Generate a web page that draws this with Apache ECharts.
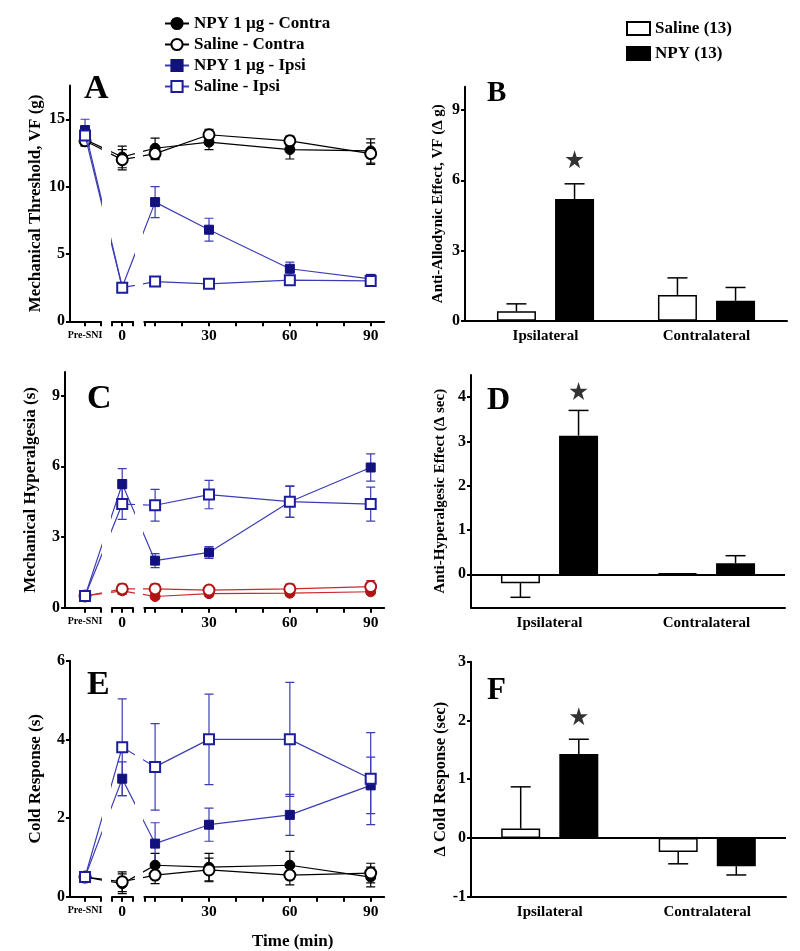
<!DOCTYPE html>
<html><head><meta charset="utf-8">
<script src="https://cdn.jsdelivr.net/npm/echarts@6/dist/echarts.min.js"></script>
<style>html,body{margin:0;padding:0;background:#fff}#chart{width:800px;height:951px}</style>
</head><body><div id="chart"></div>
<script>
// ---------------- DATA ----------------
const timeLabels = ['Pre-SNI', '0', '10', '30', '60', '90'];
const timeTickMinutes = [10, 20, 30, 40, 50, 60, 70, 80, 90];
const timeLabelMinutes = [30, 60, 90];
const groupNames = ['NPY 1 µg - Contra', 'Saline - Contra', 'NPY 1 µg - Ipsi', 'Saline - Ipsi'];

// Panel A: Mechanical threshold (g)
const aNpyContra    = [13.5, 12.2, 12.85, 13.3, 12.75, 12.65];
const aNpyContraSem = [0.4, 0.8, 0.75, 0.55, 0.7, 0.9];
const aSalContra    = [13.4, 12.0, 12.45, 13.85, 13.4, 12.45];
const aSalContraSem = [0.4, 0.75, 0.45, 0.4, 0.35, 0.8];
const aNpyIpsi      = [14.2, 2.55, 8.85, 6.8, 3.9, 3.15];
const aNpyIpsiSem   = [0.8, 0.2, 1.15, 0.85, 0.5, 0.3];
const aSalIpsi      = [13.8, 2.5, 2.95, 2.78, 3.05, 3.0];
const aSalIpsiSem   = [0.4, 0.2, 0.3, 0.2, 0.3, 0.3];
const aYTicks = [0, 5, 10, 15];

// Panel C: Mechanical hyperalgesia (s)
const cNpyContra    = [0.5, 0.72, 0.48, 0.6, 0.62, 0.68];
const cNpyContraSem = [0.1, 0.15, 0.1, 0.1, 0.1, 0.1];
const cSalContra    = [0.5, 0.8, 0.8, 0.75, 0.8, 0.9];
const cSalContraSem = [0.1, 0.2, 0.2, 0.15, 0.2, 0.25];
const cNpyIpsi      = [0.5, 5.25, 2.0, 2.35, 4.5, 5.95];
const cNpyIpsiSem   = [0.1, 0.65, 0.3, 0.25, 0.65, 0.58];
const cSalIpsi      = [0.5, 4.4, 4.35, 4.8, 4.5, 4.4];
const cSalIpsiSem   = [0.1, 0.65, 0.67, 0.6, 0.67, 0.72];
const cYTicks = [0, 3, 6, 9];

// Panel E: Cold response (s)
const eNpyContra    = [0.5, 0.33, 0.8, 0.75, 0.8, 0.5];
const eNpyContraSem = [0.1, 0.25, 0.3, 0.35, 0.35, 0.25];
const eSalContra    = [0.5, 0.38, 0.55, 0.68, 0.55, 0.6];
const eSalContraSem = [0.1, 0.25, 0.22, 0.3, 0.25, 0.25];
const eNpyIpsi      = [0.5, 3.0, 1.35, 1.83, 2.08, 2.83];
const eNpyIpsiSem   = [0.05, 0.43, 0.53, 0.42, 0.52, 0.72];
const eSalIpsi      = [0.5, 3.8, 3.3, 4.0, 4.0, 3.0];
const eSalIpsiSem   = [0.05, 1.23, 1.1, 1.15, 1.45, 1.17];
const eYTicks = [0, 2, 4, 6];

// Bar panels
const barCategories = ['Ipsilateral', 'Contralateral'];
const barGroups = ['Saline (13)', 'NPY (13)'];
const bSaline = [0.4, 1.1];   const bSalineSem = [0.32, 0.73];
const bNpy    = [5.2, 0.85];  const bNpySem    = [0.65, 0.57];
const bStar = 6.9;  const bYTicks = [0, 3, 6, 9];
const dSaline = [-0.2, 0.02]; const dSalineSem = [0.32, 0];
const dNpy    = [3.13, 0.25]; const dNpySem    = [0.57, 0.17];
const dStar = 4.14; const dYTicks = [0, 1, 2, 3, 4];
const fSaline = [0.16, -0.24]; const fSalineSem = [0.71, 0.2];
const fNpy    = [1.43, -0.48]; const fNpySem    = [0.25, 0.15];
const fStar = 2.07; const fYTicks = [-1, 0, 1, 2, 3];

// ---------------- LAYOUT / STYLE ----------------
const SERIF = 'Liberation Serif';
const PX_PER_MIN = 2.695, PX_AT_30 = 209;
const PRE_POS = -16, ZERO_POS = -2.2;
function xPos(label) { return label === 'Pre-SNI' ? PRE_POS : (label === '0' ? ZERO_POS : Number(label)); }
function px(d) { return PX_AT_30 + (d - 30) * PX_PER_MIN; }

const BLUE_LINE = '#3c3cb4', NAVY = '#12127e', BLUE_EDGE = '#1c1c9c';
const RED_LINE = '#cc2a2a', RED_FILL = '#b01414';

const linePanels = [
  { letter: 'A', yName: 'Mechanical Threshold, VF (g)', yMax: 17.5, yTicks: aYTicks, top: 85.6, height: 235.7, seg1Min: -21.6,
    contra: '#000', contraLine: '#000', letterXY: [84, 103], letterSize: 34, nameSize: 17,
    sets: [[aNpyContra, aNpyContraSem], [aSalContra, aSalContraSem], [aNpyIpsi, aNpyIpsiSem], [aSalIpsi, aSalIpsiSem]] },
  { letter: 'C', yName: 'Mechanical Hyperalgesia (s)', yMax: 10, yTicks: cYTicks, top: 372, height: 235.8, seg1Min: -23.4,
    contra: RED_FILL, contraLine: RED_LINE, letterXY: [87, 413], letterSize: 34, nameSize: 17,
    sets: [[cNpyContra, cNpyContraSem], [cSalContra, cSalContraSem], [cNpyIpsi, cNpyIpsiSem], [cSalIpsi, cSalIpsiSem]] },
  { letter: 'E', yName: 'Cold Response (s)', yMax: 6, yTicks: eYTicks, top: 660.7, height: 236, seg1Min: -21.6,
    contra: '#000', contraLine: '#000', letterXY: [87, 699], letterSize: 34, nameSize: 17,
    sets: [[eNpyContra, eNpyContraSem], [eSalContra, eSalContraSem], [eNpyIpsi, eNpyIpsiSem], [eSalIpsi, eSalIpsiSem]] }
];

const barPanels = [
  { letter: 'B', yName: 'Anti-Allodynic Effect, VF (Δ g)', yMin: 0, yMax: 10, yTicks: bYTicks, left: 465, width: 322, top: 86.7, height: 234,
    saline: bSaline, salineSem: bSalineSem, npy: bNpy, npySem: bNpySem, star: bStar, nameGap: 19, nameSize: 15, letterXY: [487, 105], letterSize: 29 },
  { letter: 'D', yName: 'Anti-Hyperalgesic Effect (Δ sec)', yMin: -0.75, yMax: 4.5, yTicks: dYTicks, left: 471, width: 314, top: 375, height: 232.5,
    saline: dSaline, salineSem: dSalineSem, npy: dNpy, npySem: dNpySem, star: dStar, nameGap: 23, nameSize: 15, letterXY: [487, 414], letterSize: 32 },
  { letter: 'F', yName: 'Δ Cold Response (sec)', yMin: -1, yMax: 3, yTicks: fYTicks, left: 471, width: 315, top: 661.7, height: 235,
    saline: fSaline, salineSem: fSalineSem, npy: fNpy, npySem: fNpySem, star: fStar, nameGap: 22, nameSize: 16.5, letterXY: [487, 703], letterSize: 31 }
];

const BAR_W = 39, BAR_GAP_RATIO = 0.49;
const BAR_OFFSET = (BAR_W + BAR_W * BAR_GAP_RATIO) / 2;
const STAR_PATH = 'path://M50,0 L61.2,34.5 L97.6,34.5 L68.2,55.9 L79.4,90.5 L50,69.1 L20.6,90.5 L31.8,55.9 L2.4,34.5 L38.8,34.5 Z';

const grids = [], xAxes = [], yAxes = [], series = [], graphics = [];
const axisLineStyle = { color: '#000', width: 2 };
const labelFont = { color: '#000', fontFamily: SERIF, fontWeight: 'bold' };

function groupStyle(panel, g) {
  // g: 0 NPY contra, 1 saline contra, 2 NPY ipsi, 3 saline ipsi
  if (g === 0) return { symbol: 'circle', size: 10, fill: panel.contra, border: panel.contra, line: panel.contraLine, err: panel.contraLine };
  if (g === 1) return { symbol: 'circle', size: 11, fill: '#fff', border: panel.contra, line: panel.contraLine, err: panel.contraLine };
  if (g === 2) return { symbol: 'rect', size: 9, fill: NAVY, border: NAVY, line: BLUE_LINE, err: BLUE_LINE };
  return { symbol: 'rect', size: 10, fill: '#fff', border: BLUE_EDGE, line: BLUE_LINE, err: BLUE_LINE };
}

linePanels.forEach((panel, pi) => {
  const segs = [[panel.seg1Min, -10.2], [-6, 1.8], [6, 95]];
  segs.forEach((seg, s) => {
    const gi = grids.length;
    grids.push({ left: px(seg[0]), width: (seg[1] - seg[0]) * PX_PER_MIN, top: panel.top, height: panel.height });
    let tickVals, labelVals, fontSize;
    if (s === 0) { tickVals = [PRE_POS, seg[1] - 0.05]; labelVals = [PRE_POS]; fontSize = 10; }
    else if (s === 1) { tickVals = [seg[0] + 0.05, ZERO_POS, seg[1] - 0.05]; labelVals = [ZERO_POS]; fontSize = 15.5; }
    else { tickVals = [seg[0] + 0.05].concat(timeTickMinutes); labelVals = timeLabelMinutes; fontSize = 15.5; }
    xAxes.push({
      type: 'value', gridIndex: gi, min: seg[0], max: seg[1],
      splitLine: { show: false },
      axisLine: { show: true, onZero: false, lineStyle: axisLineStyle },
      axisTick: { show: true, length: 5, lineStyle: { color: '#000', width: 2 }, customValues: tickVals },
      axisLabel: Object.assign({ show: true, fontSize: fontSize, margin: s === 0 ? 9 : 7, customValues: labelVals,
        formatter: v => (Math.abs(v - PRE_POS) < 0.01 ? 'Pre-SNI' : (Math.abs(v - ZERO_POS) < 0.01 ? '0' : String(Math.round(v)))) }, labelFont)
    });
    yAxes.push({
      type: 'value', gridIndex: gi, min: 0, max: panel.yMax, show: s === 0,
      splitLine: { show: false },
      axisLine: { show: true, lineStyle: axisLineStyle },
      axisTick: { show: true, length: 4, lineStyle: { color: '#000', width: 2 }, customValues: panel.yTicks },
      axisLabel: Object.assign({ fontSize: 16, margin: 5, customValues: panel.yTicks }, labelFont),
      name: panel.yName, nameLocation: 'middle', nameGap: 26, nameRotate: 90,
      nameTextStyle: Object.assign({ fontSize: panel.nameSize }, labelFont)
    });
    // error bars
    const errData = [];
    panel.sets.forEach((set, g) => {
      timeLabels.forEach((lab, i) => errData.push([xPos(lab), set[0][i], set[1][i], g]));
    });
    series.push({
      type: 'custom', name: 'err-' + panel.letter + s, xAxisIndex: gi, yAxisIndex: gi, clip: true, z: 1, silent: true,
      data: errData,
      renderItem: (params, api) => {
        const x = api.value(0), y = api.value(1), e = api.value(2), g = api.value(3);
        const st = groupStyle(panel, g);
        const hi = api.coord([x, y + e]), lo = api.coord([x, y - e]);
        const cw = 4.5;
        const ls = { stroke: st.err, lineWidth: 1.2 };
        return { type: 'group', children: [
          { type: 'line', shape: { x1: hi[0], y1: hi[1], x2: lo[0], y2: lo[1] }, style: ls },
          { type: 'line', shape: { x1: hi[0] - cw, y1: hi[1], x2: hi[0] + cw, y2: hi[1] }, style: ls },
          { type: 'line', shape: { x1: lo[0] - cw, y1: lo[1], x2: lo[0] + cw, y2: lo[1] }, style: ls }
        ] };
      }
    });
    panel.sets.forEach((set, g) => {
      const st = groupStyle(panel, g);
      series.push({
        type: 'line', name: groupNames[g], xAxisIndex: gi, yAxisIndex: gi, clip: true, z: 2 + g,
        data: timeLabels.map((lab, i) => [xPos(lab), set[0][i]]),
        symbol: st.symbol, symbolSize: st.size, showAllSymbol: true,
        itemStyle: { color: st.fill, borderColor: st.border, borderWidth: (g === 1 || g === 3) ? 2 : 1 },
        lineStyle: { color: st.line, width: 1.2 },
        emphasis: { disabled: true }, animation: false
      });
    });
  });
  graphics.push({ type: 'text', left: panel.letterXY[0], top: panel.letterXY[1] - panel.letterSize * 0.9,
    style: { text: panel.letter, font: 'bold ' + panel.letterSize + 'px "' + SERIF + '"', fill: '#000' } });
});

barPanels.forEach((panel) => {
  const gi = grids.length;
  grids.push({ left: panel.left, width: panel.width, top: panel.top, height: panel.height });
  xAxes.push({
    type: 'category', gridIndex: gi, data: barCategories,
    axisLine: { show: true, onZero: false, lineStyle: axisLineStyle },
    axisTick: { show: false },
    axisLabel: Object.assign({ fontSize: 15, margin: 8 }, labelFont)
  });
  yAxes.push({
    type: 'value', gridIndex: gi, min: panel.yMin, max: panel.yMax,
    splitLine: { show: false },
    axisLine: { show: true, onZero: false, lineStyle: axisLineStyle },
    axisTick: { show: true, length: 4, lineStyle: { color: '#000', width: 2 }, customValues: panel.yTicks },
    axisLabel: Object.assign({ fontSize: 16, margin: 5, customValues: panel.yTicks }, labelFont),
    name: panel.yName, nameLocation: 'middle', nameGap: panel.nameGap, nameRotate: 90,
    nameTextStyle: Object.assign({ fontSize: panel.nameSize }, labelFont)
  });
  const barCommon = { type: 'bar', xAxisIndex: gi, yAxisIndex: gi, barWidth: BAR_W, barGap: (BAR_GAP_RATIO * 100) + '%', z: 2,
    emphasis: { disabled: true }, animation: false };
  series.push(Object.assign({}, barCommon, { name: barGroups[0], data: panel.saline,
    itemStyle: { color: '#fff', borderColor: '#000', borderWidth: 1.5 },
    markLine: panel.yMin < 0 ? { silent: true, symbol: 'none', label: { show: false },
      lineStyle: { color: '#000', width: 2, type: 'solid' }, data: [{ yAxis: 0 }] } : undefined }));
  series.push(Object.assign({}, barCommon, { name: barGroups[1], data: panel.npy,
    itemStyle: { color: '#000', borderColor: '#000', borderWidth: 1.5 } }));
  // one-sided error bars
  const errData = [];
  barCategories.forEach((c, i) => {
    errData.push([i, panel.saline[i], panel.salineSem[i], -1]);
    errData.push([i, panel.npy[i], panel.npySem[i], 1]);
  });
  series.push({
    type: 'custom', name: 'barerr-' + panel.letter, xAxisIndex: gi, yAxisIndex: gi, z: 1, silent: true,
    data: errData,
    renderItem: (params, api) => {
      const i = api.value(0), v = api.value(1), e = api.value(2), side = api.value(3);
      if (!e) return null;
      const dir = v < 0 ? -1 : 1;
      const a = api.coord([i, v]), b = api.coord([i, v + dir * e]);
      const x = a[0] + side * BAR_OFFSET;
      const ls = { stroke: '#000', lineWidth: 1.5 };
      return { type: 'group', children: [
        { type: 'line', shape: { x1: x, y1: a[1], x2: x, y2: b[1] }, style: ls },
        { type: 'line', shape: { x1: x - 10, y1: b[1], x2: x + 10, y2: b[1] }, style: ls }
      ] };
    }
  });
  series.push({
    type: 'scatter', name: 'star-' + panel.letter, xAxisIndex: gi, yAxisIndex: gi, z: 3, silent: true,
    data: [[barCategories[0], panel.star]], symbol: STAR_PATH, symbolSize: 18, symbolOffset: [BAR_OFFSET, 0],
    itemStyle: { color: '#000' }, animation: false
  });
  graphics.push({ type: 'text', left: panel.letterXY[0], top: panel.letterXY[1] - panel.letterSize * 0.9,
    style: { text: panel.letter, font: 'bold ' + panel.letterSize + 'px "' + SERIF + '"', fill: '#000' } });
});

graphics.push({ type: 'text', left: 252, top: 933, style: { text: 'Time (min)', font: 'bold 17px "' + SERIF + '"', fill: '#000', align: 'center', verticalAlign: 'middle' } });

const option = {
  animation: false,
  backgroundColor: '#fff',
  grid: grids,
  xAxis: xAxes,
  yAxis: yAxes,
  legend: [
    { data: groupNames, orient: 'vertical', left: 164, top: 15, padding: 0, itemGap: 4, itemWidth: 24, itemHeight: 14,
      selectedMode: false, textStyle: { fontFamily: SERIF, fontWeight: 'bold', fontSize: 17, color: '#000' } },
    { data: barGroups, orient: 'vertical', left: 626, top: 20, padding: 0, itemGap: 8, itemWidth: 23, itemHeight: 13, icon: 'rect',
      selectedMode: false, textStyle: { fontFamily: SERIF, fontWeight: 'bold', fontSize: 17, color: '#000' } }
  ],
  graphic: graphics,
  series: series
};

const chart = echarts.init(document.getElementById('chart'), null, { renderer: 'canvas' });
chart.setOption(option);
</script>
</body></html>
